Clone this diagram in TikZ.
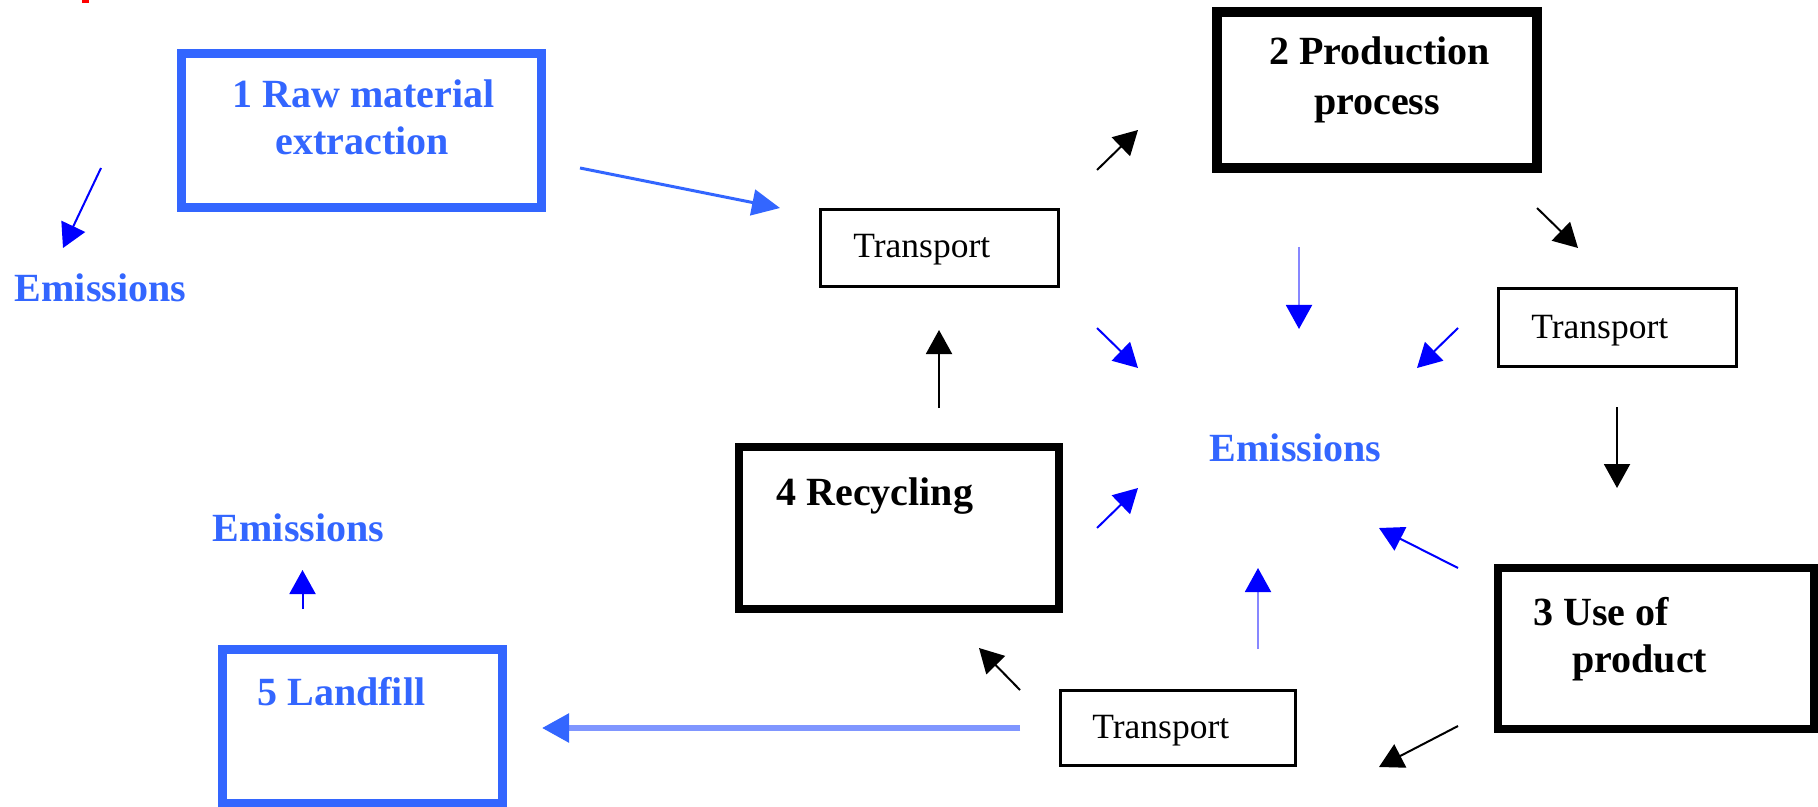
\documentclass[tikz,border=0pt]{standalone}
\usepackage{fontspec}
\setmainfont{Liberation Serif}
\usetikzlibrary{arrows.meta}
\definecolor{stageblue}{RGB}{51,102,255}
\definecolor{paleblue}{RGB}{128,150,255}
\definecolor{lineblue}{RGB}{135,135,255}
\begin{document}
\begin{tikzpicture}[x=0.5pt,y=-0.5pt,
  stage/.style={draw, rectangle, line width=4.5pt, inner sep=0pt},
  bluestage/.style={stage, draw=stageblue},
  carrier/.style={draw, rectangle, line width=1.5pt, inner sep=0pt},
  title/.style={inner sep=0pt, font=\fontsize{20}{24}\selectfont\bfseries},
  emis/.style={title, text=stageblue},
  ttext/.style={inner sep=0pt, font=\fontsize{17.75}{21}\selectfont},
  flow/.style={line width=1pt, -{Triangle[length=12pt,width=13pt]}},
  emitflow/.style={flow, blue},
  paleflow/.style={line width=1pt, lineblue, -{Triangle[length=12pt,width=13pt,color=blue]}}
]
\useasboundingbox (0,0) rectangle (1818,807);

% fragment at the top edge
\fill[red] (82,0) rectangle (89,3);

% life-cycle stages
\node[bluestage, minimum width=180pt, minimum height=77pt] (raw) at (361.5,130.5) {};
\node[title, text=stageblue, anchor=base] (rawA) at (363.5,108) {1 Raw material};
\node[title, text=stageblue, anchor=base] (rawB) at (362.5,155) {extraction};

\node[stage, line width=5pt, minimum width=160pt, minimum height=78pt] (prod) at (1377,90) {};
\node[title, anchor=base] (prodA) at (1379.5,65) {2 Production};
\node[title, anchor=base] (prodB) at (1377,115) {process};

\node[stage, line width=4.25pt, minimum width=160pt, minimum height=81pt] (recy) at (899,528) {};
\node[title, anchor=base west] (recyA) at (776,505) {4 Recycling};

\node[stage, line width=4pt, minimum width=158pt, minimum height=80.5pt] (use) at (1656,648.5) {};
\node[title, anchor=base west] (useA) at (1533,625) {3 Use of};
\node[title, anchor=base west] (useB) at (1572,672) {product};

\node[bluestage, minimum width=140pt, minimum height=77pt] (land) at (362,726) {};
\node[title, text=stageblue, anchor=base west] (landA) at (257,705) {5 Landfill};

% transport steps
\node[carrier, minimum width=119pt, minimum height=38.5pt] (tA) at (939.5,248) {};
\node[ttext, anchor=base west] (tAtxt) at (853,258) {Transport};
\node[carrier, minimum width=119pt, minimum height=39pt] (tB) at (1617.5,327.5) {};
\node[ttext, anchor=base west] (tBtxt) at (1531,338) {Transport};
\node[carrier, minimum width=117.5pt, minimum height=37.5pt] (tC) at (1178,728) {};
\node[ttext, anchor=base west] (tCtxt) at (1092,738) {Transport};

% emissions labels
\node[emis, anchor=base] (emL) at (100.5,302) {Emissions};
\node[emis, anchor=base] (emC) at (1295.5,461) {Emissions};
\node[emis, anchor=base] (emB) at (298.5,541) {Emissions};

% arrow end points
\coordinate (a1s) at (101,168);  \coordinate (a1e) at (63,248);
\coordinate (a2s) at (580,168);  \coordinate (a2e) at (780,208);
\coordinate (a3s) at (1097,170); \coordinate (a3e) at (1138,130);
\coordinate (a4s) at (939,408);  \coordinate (a4e) at (939,330);
\coordinate (a5s) at (1097,328); \coordinate (a5e) at (1138,368);
\coordinate (a6s) at (1537,208); \coordinate (a6e) at (1578,248);
\coordinate (a7s) at (1299,247); \coordinate (a7e) at (1299,329);
\coordinate (a8s) at (1458,328); \coordinate (a8e) at (1417,368);
\coordinate (a9s) at (1617,407); \coordinate (a9e) at (1617,488);
\coordinate (a10s) at (1097,528); \coordinate (a10e) at (1138,488);
\coordinate (a11s) at (1020,690); \coordinate (a11e) at (979,648);
\coordinate (a12s) at (1020,728); \coordinate (a12e) at (542,728);
\coordinate (a13s) at (1458,568); \coordinate (a13e) at (1379,528);
\coordinate (a14s) at (1258,649); \coordinate (a14e) at (1258,568);
\coordinate (a15s) at (1458,726); \coordinate (a15e) at (1379,767);
\coordinate (a16s) at (302.5,609); \coordinate (a16e) at (302.5,570);

% material flow
\draw[line width=1.5pt, stageblue, -{Triangle[length=14pt,width=13pt]}] (a2s) -- (a2e);
\draw[flow] (a3s) -- (a3e);
\draw[flow] (a6s) -- (a6e);
\draw[flow] (a9s) -- (a9e);
\draw[flow] (a15s) -- (a15e);
\draw[flow] (a11s) -- (a11e);
\draw[flow] (a4s) -- (a4e);
\draw[line width=2.75pt, paleblue, -{Triangle[length=13.5pt,width=14pt,color=stageblue]}] (a12s) -- (a12e);

% emission flows
\draw[emitflow] (a1s) -- (a1e);
\draw[emitflow] (a5s) -- (a5e);
\draw[paleflow] (a7s) -- (a7e);
\draw[emitflow] (a8s) -- (a8e);
\draw[emitflow] (a10s) -- (a10e);
\draw[emitflow] (a13s) -- (a13e);
\draw[paleflow] (a14s) -- (a14e);
\draw[emitflow] (a16s) -- (a16e);
\end{tikzpicture}
\end{document}
